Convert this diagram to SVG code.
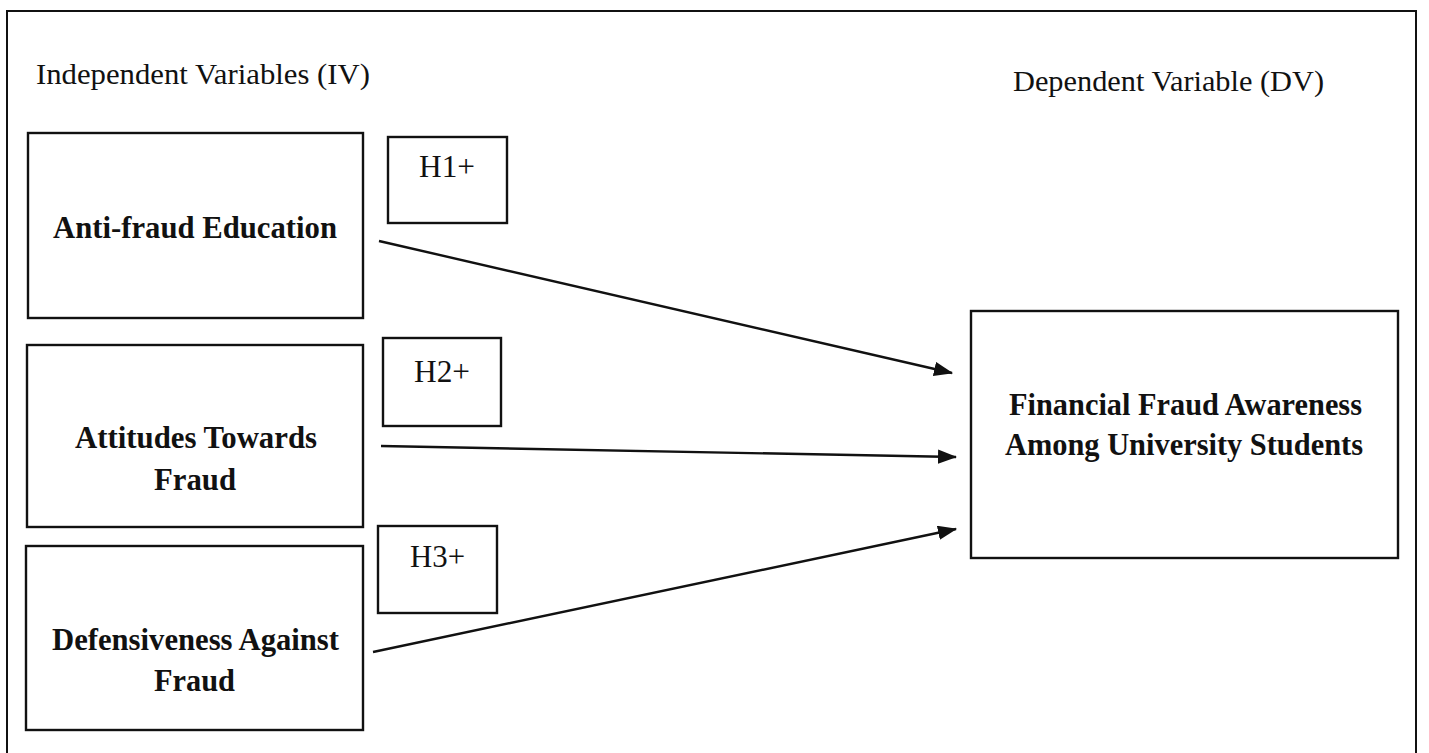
<svg xmlns="http://www.w3.org/2000/svg" width="1429" height="753" viewBox="0 0 1429 753">
<style>
.box{fill:#fff;stroke:#111;stroke-width:2.4}
.frame{fill:none;stroke:#111;stroke-width:2}
.hdr{font-family:"Liberation Serif","Times New Roman",serif;font-size:30px;fill:#111}
.lbl{font-family:"Liberation Serif","Times New Roman",serif;font-size:31px;fill:#111}
.nm{font-family:"Liberation Serif","Times New Roman",serif;font-size:32.5px;font-weight:bold;fill:#111}
.edge{stroke:#111;stroke-width:2.4;fill:none;marker-end:url(#ah)}
</style>
<defs>
<marker id="ah" markerWidth="8" markerHeight="6" refX="7.5" refY="3" orient="auto" markerUnits="strokeWidth">
<path d="M0,0 L8,3 L0,6 Z" fill="#111"/>
</marker>
</defs>
<rect width="1429" height="753" fill="#fff"/>
<rect class="frame" x="7" y="11" width="1409" height="760"/>
<text class="hdr" x="36" y="84" textLength="334" lengthAdjust="spacingAndGlyphs">Independent Variables (IV)</text>
<text class="hdr" x="1013" y="91" textLength="311" lengthAdjust="spacingAndGlyphs">Dependent Variable (DV)</text>
<g id="iv1">
<rect class="box" x="28" y="133" width="335" height="185"/>
<text class="nm" x="53" y="238" textLength="284" lengthAdjust="spacingAndGlyphs">Anti-fraud Education</text>
</g>
<g id="iv2">
<rect class="box" x="27" y="345" width="336" height="182"/>
<text class="nm" x="75" y="448" textLength="242" lengthAdjust="spacingAndGlyphs">Attitudes Towards</text>
<text class="nm" x="154" y="490" textLength="82" lengthAdjust="spacingAndGlyphs">Fraud</text>
</g>
<g id="iv3">
<rect class="box" x="26" y="546" width="337" height="184"/>
<text class="nm" x="52" y="650" textLength="287" lengthAdjust="spacingAndGlyphs">Defensiveness Against</text>
<text class="nm" x="154" y="691" textLength="81" lengthAdjust="spacingAndGlyphs">Fraud</text>
</g>
<g id="dv">
<rect class="box" x="971" y="311" width="427" height="247"/>
<text class="nm" x="1009" y="415" textLength="353" lengthAdjust="spacingAndGlyphs">Financial Fraud Awareness</text>
<text class="nm" x="1005" y="455" textLength="358" lengthAdjust="spacingAndGlyphs">Among University Students</text>
</g>
<g id="h1">
<rect class="box" x="388" y="137" width="119" height="86"/>
<text class="lbl" x="419" y="177" textLength="56" lengthAdjust="spacingAndGlyphs">H1+</text>
</g>
<g id="h2">
<rect class="box" x="383" y="338" width="118" height="88"/>
<text class="lbl" x="414" y="382" textLength="56" lengthAdjust="spacingAndGlyphs">H2+</text>
</g>
<g id="h3">
<rect class="box" x="378" y="526" width="119" height="87"/>
<text class="lbl" x="410" y="567" textLength="55" lengthAdjust="spacingAndGlyphs">H3+</text>
</g>
<g id="connectors">
<line class="edge" x1="379" y1="241" x2="952" y2="373"/>
<line class="edge" x1="381" y1="446" x2="956" y2="457"/>
<line class="edge" x1="373" y1="652" x2="956" y2="529"/>
</g>
</svg>
